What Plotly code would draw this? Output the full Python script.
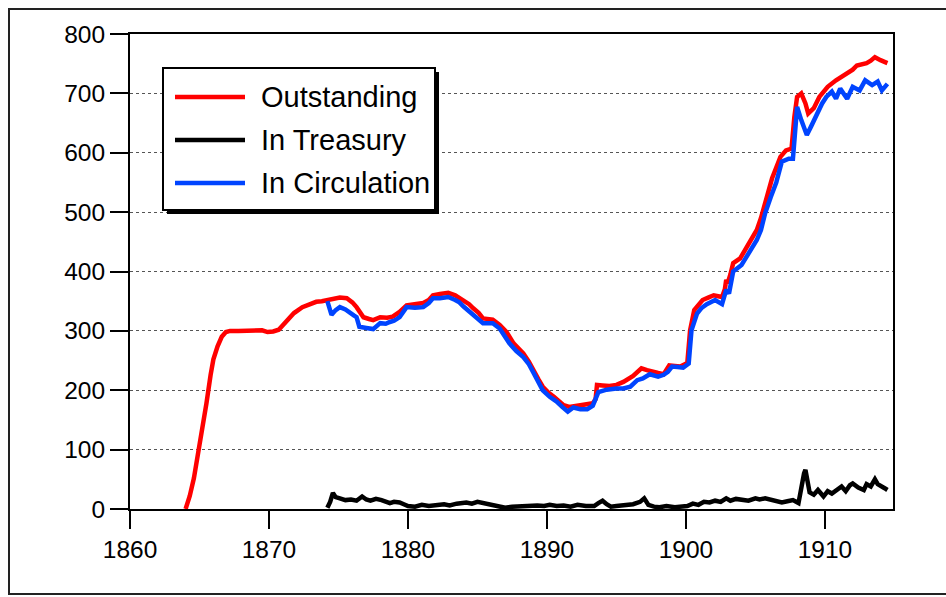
import plotly.graph_objects as go

# ---------------- data (millions of dollars) ----------------
out_years = [1864.0, 1864.3, 1864.6, 1864.9, 1865.2, 1865.5, 1865.8, 1866.0, 1866.3, 1866.6,
             1866.9, 1867.2, 1867.8, 1868.4, 1869.0, 1869.5, 1869.9, 1870.3, 1870.7, 1871.0,
             1871.3, 1871.8, 1872.4, 1872.9, 1873.4, 1873.8, 1874.2, 1874.7, 1875.1, 1875.6,
             1876.0, 1876.3, 1876.8, 1877.2, 1877.5, 1878.0, 1878.5, 1878.9, 1879.4, 1879.9,
             1880.5, 1881.1, 1881.5, 1881.8, 1882.3, 1882.9, 1883.4, 1883.7, 1884.0, 1884.4,
             1884.7, 1885.1, 1885.4, 1885.8, 1886.1, 1886.6, 1887.1, 1887.6, 1888.0, 1888.3,
             1888.7, 1889.0, 1889.4, 1889.7, 1890.1, 1890.5, 1890.9, 1891.2, 1891.6, 1891.9,
             1892.4, 1892.9, 1893.3, 1893.5, 1893.6, 1894.0, 1894.5, 1895.0, 1895.5, 1896.2,
             1896.8, 1897.2, 1897.6, 1898.0, 1898.4, 1898.8, 1899.2, 1899.6, 1900.1, 1900.3,
             1900.6, 1900.9, 1901.2, 1901.6, 1902.0, 1902.6, 1902.8, 1902.9, 1903.0, 1903.2,
             1903.4, 1903.9, 1904.1, 1904.4, 1904.8, 1905.1, 1905.4, 1905.7, 1906.0, 1906.2,
             1906.5, 1906.8, 1907.2, 1907.6, 1907.8, 1908.0, 1908.3, 1908.6, 1908.8, 1909.2,
             1909.6, 1910.2, 1910.8, 1911.2, 1911.6, 1912.0, 1912.3, 1913.0, 1913.3, 1913.6,
             1914.0, 1914.5]
outstanding = [0, 22, 52, 92, 138, 178, 226, 252, 274, 290,
               298, 300, 300, 301, 302, 301, 298, 299, 302, 310,
               318, 330, 340, 345, 349, 350, 352, 353, 356, 355,
               348, 340, 323, 320, 318, 323, 322, 324, 332, 343,
               345, 347, 352, 360, 362, 364, 360, 356, 352, 345,
               338, 330, 321, 319, 319, 310, 298, 279, 268, 262,
               248, 234, 218, 206, 196, 189, 181, 175, 172, 173,
               174, 175, 178, 185, 209, 208, 207, 209, 214, 224,
               237, 234, 231, 229, 227, 242, 241, 240, 246, 301,
               335, 345, 352, 356, 360, 357, 370, 386, 380, 395,
               414, 422, 430, 441, 458, 470, 490, 515, 545, 557,
               575, 593, 604, 607, 660, 694, 700, 683, 666, 675,
               694, 711, 722, 728, 736, 740, 747, 751, 755, 761,
               756, 751]

circ_years = [1874.2, 1874.5, 1874.8, 1875.1, 1875.5, 1875.8, 1876.1, 1876.3, 1876.5, 1877.0,
              1877.5, 1878.0, 1878.4, 1878.7, 1879.0, 1879.4, 1879.9, 1880.5, 1881.1, 1881.5,
              1881.8, 1882.3, 1882.9, 1883.4, 1883.7, 1884.0, 1884.4, 1884.7, 1885.1, 1885.4,
              1886.1, 1886.6, 1887.3, 1887.8, 1888.3, 1888.7, 1889.0, 1889.4, 1889.7, 1890.2,
              1890.7, 1891.1, 1891.5, 1891.9, 1892.4, 1892.9, 1893.3, 1893.7, 1894.3, 1895.0,
              1895.5, 1896.0, 1896.5, 1896.9, 1897.4, 1898.0, 1898.4, 1898.7, 1899.0, 1899.4,
              1899.8, 1900.2, 1900.4, 1900.8, 1901.1, 1901.5, 1902.1, 1902.6, 1902.9, 1903.1,
              1903.4, 1904.0, 1904.3, 1904.6, 1905.1, 1905.4, 1905.7, 1906.1, 1906.5, 1906.9,
              1907.4, 1907.7, 1908.0, 1908.3, 1908.7, 1909.0, 1909.3, 1909.8, 1910.1, 1910.5,
              1910.8, 1911.1, 1911.6, 1912.0, 1912.5, 1912.9, 1913.4, 1913.8, 1914.1, 1914.5]
in_circulation = [350, 327, 335, 340, 336, 332, 326, 323, 307, 305,
                  303, 313, 312, 315, 317, 323, 340, 339, 340, 347,
                  355, 355, 357, 352, 348, 341, 333, 327, 320, 313,
                  313, 304, 279, 266, 256, 244, 231, 214, 200, 189,
                  181, 172, 164, 171, 168, 168, 174, 197, 201, 203,
                  203, 206, 217, 220, 227, 223, 226, 231, 240, 239,
                  238, 245, 301, 329, 338, 345, 352, 345, 369, 363,
                  400, 411, 422, 433, 453, 470, 498, 525, 550, 585,
                  590, 590, 677, 655, 630, 644, 660, 683, 694, 703,
                  691, 708, 691, 711, 705, 722, 714, 720, 705, 716]

treas_years = [1874.2, 1874.4, 1874.6, 1874.8, 1875.1, 1875.5, 1875.9, 1876.3, 1876.7, 1877.0,
               1877.3, 1877.7, 1878.1, 1878.4, 1878.7, 1879.0, 1879.4, 1879.7, 1880.0, 1880.5,
               1881.0, 1881.5, 1882.0, 1882.6, 1883.0, 1883.5, 1884.2, 1884.6, 1885.0, 1885.4,
               1885.8, 1886.2, 1886.6, 1887.0, 1887.5, 1888.2, 1888.8, 1889.3, 1889.8, 1890.2,
               1890.7, 1891.2, 1891.7, 1892.2, 1892.8, 1893.4, 1893.7, 1894.0, 1894.3, 1894.6,
               1895.0, 1895.5, 1896.2, 1896.7, 1897.0, 1897.3, 1897.7, 1898.1, 1898.6, 1899.2,
               1899.7, 1900.1, 1900.5, 1900.9, 1901.3, 1901.7, 1902.1, 1902.5, 1902.9, 1903.2,
               1903.6, 1904.1, 1904.5, 1905.0, 1905.3, 1905.7, 1906.1, 1906.5, 1906.9, 1907.3,
               1907.7, 1908.1, 1908.3, 1908.5, 1908.6, 1908.75, 1908.9, 1909.2, 1909.5, 1909.9,
               1910.2, 1910.5, 1910.8, 1911.2, 1911.5, 1911.8, 1912.0, 1912.4, 1912.8, 1913.0,
               1913.3, 1913.6, 1913.8, 1914.0, 1914.3, 1914.5]
in_treasury = [2, 12, 27, 20, 18, 15, 16, 14, 21, 16,
               14, 17, 15, 12, 10, 12, 11, 8, 5, 4,
               7, 5, 6, 8, 6, 9, 11, 9, 12, 10,
               8, 5, 3, 2, 4, 5, 4, 6, 5, 7,
               5, 6, 4, 7, 5, 5, 10, 14, 8, 4,
               5, 6, 8, 12, 18, 7, 4, 3, 5, 3,
               4, 5, 9, 7, 12, 11, 14, 12, 18, 14,
               17, 16, 14, 18, 16, 18, 15, 13, 11, 13,
               15, 10, 38, 60, 66, 45, 28, 24, 32, 21,
               30, 26, 32, 38, 30, 40, 43, 36, 32, 42,
               38, 50, 42, 40, 35, 32]

x_ticks = [1860, 1870, 1880, 1890, 1900, 1910]
y_ticks = [0, 100, 200, 300, 400, 500, 600, 700, 800]
series_names = ["Outstanding", "In Treasury", "In Circulation"]
series_colors = ["#ff0000", "#000000", "#0044ff"]

# ---------------- figure ----------------
FONT = "Liberation Sans, Arial, Helvetica, sans-serif"
W, H = 946, 597
L, T = 130, 34
R = W - 893
B = H - 509
PW, PH = W - L - R, H - T - B


def px(x):
    """page pixel x -> paper fraction"""
    return (x - L) / PW


def py(y):
    """page pixel y -> paper fraction"""
    return (H - B - y) / PH


fig = go.Figure()
fig.add_trace(go.Scatter(x=out_years, y=outstanding, mode="lines", name=series_names[0],
                         line=dict(color=series_colors[0], width=4.5)))
fig.add_trace(go.Scatter(x=treas_years, y=in_treasury, mode="lines", name=series_names[1],
                         line=dict(color=series_colors[1], width=4.5)))
fig.add_trace(go.Scatter(x=circ_years, y=in_circulation, mode="lines", name=series_names[2],
                         line=dict(color=series_colors[2], width=4.5)))

shapes = []
# outer frame (right side runs off the page)
shapes.append(dict(type="rect", xref="paper", yref="paper",
                   x0=px(9), x1=px(990), y0=py(9), y1=py(594),
                   line=dict(color="#222", width=2), fillcolor="rgba(0,0,0,0)", layer="below"))
# legend shadow + box
shapes.append(dict(type="rect", xref="paper", yref="paper",
                   x0=px(167), x1=px(439), y0=py(72), y1=py(214),
                   line=dict(color="black", width=0), fillcolor="black", layer="above"))
shapes.append(dict(type="rect", xref="paper", yref="paper",
                   x0=px(163), x1=px(435), y0=py(68), y1=py(210),
                   line=dict(color="black", width=2), fillcolor="white", layer="above"))
annotations = []
row_y = [97, 140, 183]
for name, color, ry in zip(series_names, series_colors, row_y):
    shapes.append(dict(type="line", xref="paper", yref="paper",
                       x0=px(175), x1=px(245), y0=py(ry), y1=py(ry),
                       line=dict(color=color, width=4.5), layer="above"))
    annotations.append(dict(xref="paper", yref="paper", x=px(259), y=py(ry),
                            text=name, showarrow=False, xanchor="left", yanchor="middle",
                            font=dict(family=FONT, size=29, color="black")))

fig.update_layout(
    width=W, height=H,
    margin=dict(l=L, r=R, t=T, b=B, pad=0),
    paper_bgcolor="white", plot_bgcolor="white",
    showlegend=False,
    shapes=shapes, annotations=annotations,
    font=dict(family=FONT, size=24, color="black"),
)
fig.update_xaxes(range=[1860, 1914.9], tickvals=x_ticks, ticks="outside", ticklen=18,
                 tickwidth=2, tickcolor="black", showline=True, linewidth=2, linecolor="black",
                 mirror=True, showgrid=False, zeroline=False,
                 tickfont=dict(family=FONT, size=24.5, color="black"))
fig.update_yaxes(range=[0, 800], tickvals=y_ticks, ticks="outside", ticklen=18,
                 tickwidth=2, tickcolor="black", showline=True, linewidth=2, linecolor="black",
                 mirror=True, showgrid=True, gridcolor="#555", gridwidth=1, griddash="dot",
                 zeroline=False, tickfont=dict(family=FONT, size=24.5, color="black"))

fig.write_html(
    "out.html",
    config={"displayModeBar": False},
    post_script="document.documentElement.style.overflow='hidden';"
                "document.body.style.margin='0';document.body.style.overflow='hidden';",
)
